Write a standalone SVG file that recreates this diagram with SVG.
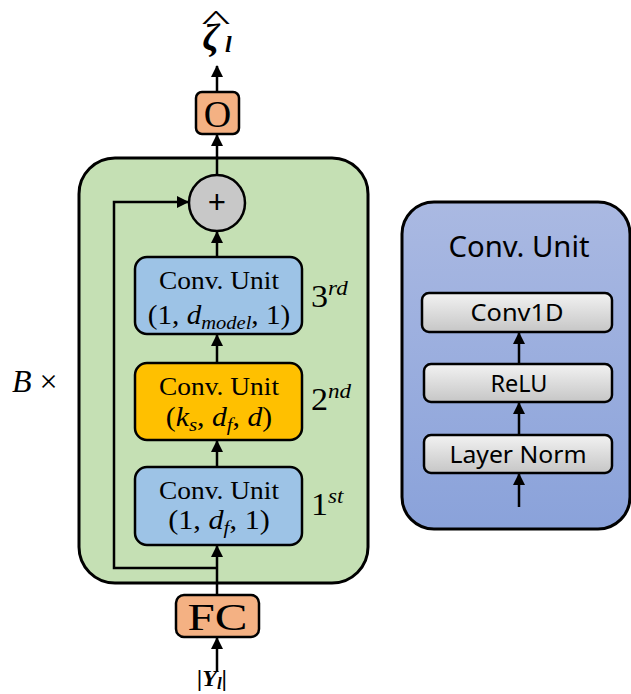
<svg xmlns="http://www.w3.org/2000/svg" width="631" height="694" viewBox="0 0 631 694">
  <defs>
    <marker id="arr" viewBox="0 0 12 12" refX="11" refY="6" markerWidth="12" markerHeight="12" markerUnits="userSpaceOnUse" orient="auto">
      <path d="M0,0 L12,6 L0,12 Z" fill="#000"/>
    </marker>
    <linearGradient id="blueBg" x1="0" y1="0" x2="0" y2="1">
      <stop offset="0" stop-color="#aab9e2"/>
      <stop offset="1" stop-color="#8aa2da"/>
    </linearGradient>
    <linearGradient id="grayBox" x1="0" y1="0" x2="0" y2="1">
      <stop offset="0" stop-color="#f2f2f2"/>
      <stop offset="1" stop-color="#c6c6c6"/>
    </linearGradient>
  </defs>
  <style>
    .edge { stroke: #000; stroke-width: 2.5; fill: none; }
    .box { stroke: #000; stroke-width: 2.5; }
    .serif { font-family: "Liberation Serif", "Times New Roman", serif; fill: #000; }
    .it { font-style: italic; }
    .sans { font-family: "Noto Sans", "Open Sans", sans-serif; fill: #000; }
    .mid { text-anchor: middle; }
  </style>
  <rect width="631" height="694" fill="#fff"/>

  <!-- repeated block container -->
  <g id="block">
    <rect x="79" y="158" width="289" height="425" rx="36" fill="#c5e0b4" stroke="#000" stroke-width="3"/>
    <text class="serif" x="12" y="392" font-size="32"><tspan class="it">B</tspan> ×</text>
  </g>

  <!-- output symbol: zeta hat, subscript l -->
  <g id="output-symbol">
    <text class="serif it" font-weight="bold"><tspan x="211" y="50" font-size="38" text-anchor="middle">ζ</tspan><tspan x="225" y="52" font-size="24">l</tspan></text>
    <g transform="translate(216,29) scale(2.2,1)">
      <text class="serif mid" x="0" y="0" font-size="28">^</text>
    </g>
  </g>

  <g id="out-layer">
    <rect class="box" x="196" y="92" width="43" height="42" rx="6" fill="#f4b183"/>
    <text class="serif mid" x="217.5" y="127" font-size="38">O</text>
  </g>

  <g id="add">
    <circle class="box" cx="217" cy="203" r="28" fill="#c8c8c8"/>
    <text class="sans mid" x="217" y="214" font-size="32">+</text>
  </g>

  <g id="conv-3rd">
    <rect class="box" x="135" y="257" width="167" height="77" rx="12" fill="#9dc3e6"/>
    <text class="serif mid" x="219" y="289" font-size="25" textLength="120" lengthAdjust="spacingAndGlyphs">Conv. Unit</text>
    <g transform="translate(219,324) scale(1.08,1)">
      <text class="serif mid" x="0" y="0" font-size="27">(1, <tspan class="it">d</tspan><tspan class="it" font-size="19" dy="5">model</tspan><tspan dy="-5">, 1)</tspan></text>
    </g>
    <g transform="translate(311,307) scale(1.1,1)">
      <text class="serif" x="0" y="0" font-size="31">3<tspan class="it" font-size="21" dy="-12">rd</tspan></text>
    </g>
  </g>

  <g id="conv-2nd">
    <rect class="box" x="135" y="363" width="167" height="77" rx="12" fill="#ffc000"/>
    <text class="serif mid" x="219" y="395" font-size="25" textLength="120" lengthAdjust="spacingAndGlyphs">Conv. Unit</text>
    <g transform="translate(219,426) scale(1.1,1)">
      <text class="serif mid" x="0" y="0" font-size="27">(<tspan class="it">k</tspan><tspan class="it" font-size="19" dy="5">s</tspan><tspan dy="-5">, </tspan><tspan class="it">d</tspan><tspan class="it" font-size="19" dy="5">f</tspan><tspan dy="-5">, </tspan><tspan class="it">d</tspan>)</text>
    </g>
    <g transform="translate(311,410) scale(1.1,1)">
      <text class="serif" x="0" y="0" font-size="31">2<tspan class="it" font-size="21" dy="-12">nd</tspan></text>
    </g>
  </g>

  <g id="conv-1st">
    <rect class="box" x="135" y="467" width="167" height="78" rx="12" fill="#9dc3e6"/>
    <text class="serif mid" x="219" y="499" font-size="25" textLength="120" lengthAdjust="spacingAndGlyphs">Conv. Unit</text>
    <g transform="translate(219,529) scale(1.12,1)">
      <text class="serif mid" x="0" y="0" font-size="27">(1, <tspan class="it">d</tspan><tspan class="it" font-size="19" dy="5">f</tspan><tspan dy="-5">, 1)</tspan></text>
    </g>
    <g transform="translate(311,515) scale(1.1,1)">
      <text class="serif" x="0" y="0" font-size="31">1<tspan class="it" font-size="21" dy="-12">st</tspan></text>
    </g>
  </g>

  <g id="fc">
    <rect class="box" x="176" y="595" width="83" height="42" rx="8" fill="#f4b183"/>
    <text class="serif mid" x="217.5" y="630" font-size="38" textLength="60" lengthAdjust="spacingAndGlyphs">FC</text>
  </g>

  <g id="input-symbol">
    <text class="serif it" x="197" y="686" font-size="24" font-weight="bold">|Y<tspan font-size="17" dy="3">l</tspan><tspan dy="-3">|</tspan></text>
  </g>

  <!-- conv unit detail panel -->
  <g id="conv-unit-detail">
    <rect x="402" y="202" width="228" height="327" rx="32" fill="url(#blueBg)" stroke="#000" stroke-width="3"/>
    <text class="sans mid" x="519" y="257" font-size="29" textLength="141" lengthAdjust="spacingAndGlyphs">Conv. Unit</text>
  </g>
  <g id="conv1d">
    <rect class="box" x="422" y="293" width="190" height="39" rx="7" fill="url(#grayBox)" stroke-width="2"/>
    <text class="sans mid" x="517" y="321" font-size="23" textLength="93" lengthAdjust="spacingAndGlyphs">Conv1D</text>
  </g>
  <g id="relu">
    <rect class="box" x="424" y="364" width="188" height="38" rx="7" fill="url(#grayBox)" stroke-width="2"/>
    <text class="sans mid" x="519" y="392" font-size="23" textLength="57" lengthAdjust="spacingAndGlyphs">ReLU</text>
  </g>
  <g id="layer-norm">
    <rect class="box" x="424" y="435" width="188" height="38" rx="7" fill="url(#grayBox)" stroke-width="2"/>
    <text class="sans mid" x="518" y="463" font-size="23" textLength="137" lengthAdjust="spacingAndGlyphs">Layer Norm</text>
  </g>

  <!-- connectors -->
  <g id="connectors">
    <line class="edge" x1="217" y1="672" x2="217" y2="638" marker-end="url(#arr)"/>
    <line class="edge" x1="217" y1="595" x2="217" y2="546" marker-end="url(#arr)"/>
    <line class="edge" x1="217" y1="467" x2="217" y2="441" marker-end="url(#arr)"/>
    <line class="edge" x1="217" y1="363" x2="217" y2="335" marker-end="url(#arr)"/>
    <line class="edge" x1="217" y1="257" x2="217" y2="232" marker-end="url(#arr)"/>
    <line class="edge" x1="217" y1="175" x2="217" y2="135" marker-end="url(#arr)"/>
    <line class="edge" x1="217" y1="92" x2="217" y2="66" marker-end="url(#arr)"/>
    <polyline class="edge" points="217,568 114,568 114,202 188,202" marker-end="url(#arr)"/>
    <line class="edge" x1="519" y1="507" x2="519" y2="474" marker-end="url(#arr)"/>
    <line class="edge" x1="519" y1="435" x2="519" y2="403" marker-end="url(#arr)"/>
    <line class="edge" x1="519" y1="364" x2="519" y2="333" marker-end="url(#arr)"/>
  </g>
</svg>
